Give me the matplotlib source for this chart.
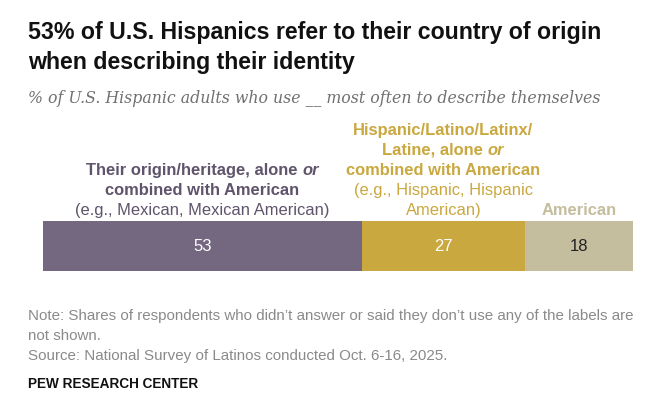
import matplotlib
matplotlib.use("Agg")
import matplotlib.pyplot as plt

# data
categories = ["Their origin/heritage", "Hispanic/Latino/Latinx/Latine", "American"]
values = [53, 27, 18]
bar_colors = ["#736880", "#c9a840", "#c4bd9e"]
label_colors = ["#5f546b", "#c9a840", "#c4bd9e"]
value_colors = ["white", "white", "#222222"]

B = ("bold", "normal")
BI = ("bold", "italic")
N = ("normal", "normal")
# label lines for each segment, each line is a list of (text, style) runs
label_lines = [
    [[("Their origin/heritage, alone ", B), ("or", BI)],
     [("combined with American", B)],
     [("(e.g., Mexican, Mexican American)", N)]],
    [[("Hispanic/Latino/Latinx/", B)],
     [("Latine, alone ", B), ("or", BI)],
     [("combined with American", B)],
     [("(e.g., Hispanic, Hispanic", N)],
     [("American)", N)]],
    [[("American", B)]],
]

title = "53% of U.S. Hispanics refer to their country of origin\nwhen describing their identity"
subtitle = "% of U.S. Hispanic adults who use __ most often to describe themselves"
note_lines = [
    "Note: Shares of respondents who didn\u2019t answer or said they don\u2019t use any of the labels are",
    "not shown.",
    "Source: National Survey of Latinos conducted Oct. 6-16, 2025.",
]
credit = "PEW RESEARCH CENTER"

W, H = 668, 410
SANS = ["Liberation Sans", "DejaVu Sans"]
SERIF = ["DejaVu Serif"]

fig = plt.figure(figsize=(W / 100, H / 100), dpi=100)
fig.patch.set_facecolor("white")


def fy(px):
    return 1 - px / H


def fx(px):
    return px / W


# title and subtitle
tl = title.split("\n")
fig.text(fx(28), fy(39), tl[0], family=SANS, fontsize=16.7, fontweight="bold",
         color="#111111", va="baseline")
fig.text(fx(28), fy(69), tl[1], family=SANS, fontsize=16.7, fontweight="bold",
         color="#111111", va="baseline")
fig.text(fx(28), fy(103), subtitle, family=SERIF, fontsize=11.3, style="italic",
         color="#707070", va="baseline")

# stacked bar
ax = fig.add_axes([fx(43), fy(272), 590 / W, 50 / H])
left = 0
centers = []
for v, c in zip(values, bar_colors):
    ax.barh(0, v, left=left, height=1, color=c, edgecolor="none")
    centers.append(left + v / 2)
    left += v
ax.set_xlim(0, sum(values))
ax.set_ylim(-0.5, 0.5)
ax.axis("off")

for cx, v, tc in zip(centers, values, value_colors):
    ax.text(cx, 0, str(v), ha="center", va="center", family=SANS,
            fontsize=12, color=tc)

# category labels above the segments
renderer = fig.canvas.get_renderer()
line_gap = 20
last_baseline = 215
for cx, lines, lc in zip(centers, label_lines, label_colors):
    xd = ax.transData.transform((cx, 0))[0]
    n = len(lines)
    for i, runs in enumerate(lines):
        base_px = last_baseline - (n - 1 - i) * line_gap
        texts = []
        total = 0
        for s, (wt, st) in runs:
            t = fig.text(0, fy(base_px), s, family=SANS, fontsize=11.9,
                         fontweight=wt, style=st, color=lc, va="baseline")
            w = t.get_window_extent(renderer).width
            texts.append((t, w))
            total += w
        x0 = xd - total / 2
        for t, w in texts:
            t.set_x(x0 / W)
            x0 += w

# notes
for i, s in enumerate(note_lines):
    fig.text(fx(28), fy(320 + i * 20), s, family=SANS, fontsize=10.9,
             color="#8a8a8a", va="baseline")
fig.text(fx(28), fy(388), credit, family=SANS, fontsize=9.8, fontweight="bold",
         color="#111111", va="baseline")

fig.savefig("out.png", dpi=100, facecolor="white")
